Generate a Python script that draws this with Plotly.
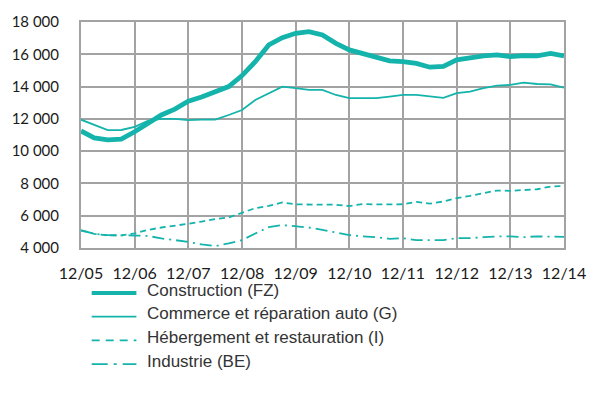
import plotly.graph_objects as go

# Quarterly dates, December 2005 to December 2014
dates = [f"{y}-{m:02d}-01" for y in range(2005, 2015) for m in (3, 6, 9, 12)]
dates = dates[3:]  # start at 2005-12

construction = [11250, 10820, 10700, 10740, 11200, 11750, 12240, 12600, 13100,
                13350, 13650, 14000, 14680, 15540, 16580, 17030, 17300, 17400,
                17200, 16680, 16270, 16050, 15800, 15590, 15550, 15440, 15200,
                15250, 15650, 15790, 15900, 15960, 15850, 15920, 15900, 16060,
                15900]
commerce = [11950, 11630, 11300, 11310, 11500, 11870, 12000, 12000, 11920,
            11950, 11950, 12240, 12550, 13170, 13590, 14000, 13900, 13790,
            13790, 13480, 13280, 13300, 13280, 13380, 13480, 13480, 13400,
            13300, 13590, 13690, 13900, 14060, 14100, 14250, 14160, 14140,
            13930]
hebergement = [5080, 4880, 4780, 4780, 4900, 5120, 5270, 5370, 5500, 5640,
               5790, 5890, 6160, 6470, 6610, 6820, 6700, 6700, 6680, 6680,
               6600, 6720, 6700, 6700, 6710, 6860, 6750, 6880, 7090, 7230,
               7400, 7560, 7540, 7600, 7640, 7810, 7850]
industrie = [5100, 4880, 4800, 4800, 4770, 4750, 4590, 4490, 4380, 4220, 4120,
             4280, 4490, 4900, 5290, 5420, 5350, 5270, 5120, 4960, 4800, 4720,
             4670, 4570, 4610, 4490, 4490, 4490, 4610, 4610, 4670, 4720, 4720,
             4670, 4720, 4720, 4690]

tick_dates = [f"{y}-12-01" for y in range(2005, 2015)]
tick_labels = [f"12/{y % 100:02d}" for y in range(2005, 2015)]
y_ticks = list(range(4000, 18001, 2000))

teal = "#14b3ab"
grid = "#a3a3a3"

W, H = 598, 403
ML, MR, MT, MB = 76, 25, 22, 155
PW, PH = W - ML - MR, H - MT - MB

# name, values, plot line width, plot dash, legend line width, legend dash
series = [
    ("Construction (FZ)", construction, 4.8, "solid", 4.0, "solid"),
    ("Commerce et réparation auto (G)", commerce, 1.8, "solid", 1.8, "solid"),
    ("Hébergement et restauration (I)", hebergement, 1.8, "6px,4px",
     1.8, "8px,6px"),
    ("Industrie (BE)", industrie, 1.8, "12px,5px,2px,5px",
     1.8, "16px,6px,3px,6px"),
]

fig = go.Figure()
for name, vals, w, dash, _, _ in series:
    fig.add_trace(go.Scatter(
        x=dates, y=vals, name=name, mode="lines",
        line=dict(color=teal, width=w, dash=dash),
        hoverinfo="skip", showlegend=False,
    ))


def px_x(p):
    return (p - ML) / PW


def px_y(p):
    return (H - MB - p) / PH


# Hand-placed key below the plot: line sample plus label for each series
key_x0, key_x1, text_x = 87, 133, 142
row_y0, row_step = 290, 23.7
for i, (name, _, _, _, lw, ldash) in enumerate(series):
    cy = row_y0 + i * row_step
    fig.add_shape(
        type="line", xref="paper", yref="paper",
        x0=px_x(key_x0), x1=px_x(key_x1), y0=px_y(cy + 3), y1=px_y(cy + 3),
        line=dict(color=teal, width=lw, dash=ldash),
    )
    fig.add_annotation(
        xref="paper", yref="paper", x=px_x(text_x), y=px_y(cy),
        xanchor="left", yanchor="middle", showarrow=False, text=name,
        font=dict(family="Liberation Sans, Arial, sans-serif", size=17,
                  color="#333333"),
    )

fig.update_layout(
    width=W, height=H,
    margin=dict(l=ML, r=MR, t=MT, b=MB),
    paper_bgcolor="white", plot_bgcolor="white",
    separators=", ",
    showlegend=False,
)
fig.update_xaxes(
    type="date", range=["2005-12-01", "2014-12-01"],
    tickvals=tick_dates, ticktext=tick_labels,
    showgrid=True, gridcolor=grid, gridwidth=2,
    showline=True, linecolor=grid, linewidth=2, mirror=True,
    ticks="", ticklabelstandoff=10,
    tickfont=dict(family="Lato, sans-serif", size=16, color="#1a1a1a"),
    zeroline=False,
)
fig.update_yaxes(
    range=[4000, 18000], tickvals=y_ticks, tickformat=",d",
    showgrid=True, gridcolor=grid, gridwidth=2,
    showline=True, linecolor=grid, linewidth=2, mirror=True,
    ticks="", ticklabelstandoff=17,
    tickfont=dict(family="Lato, sans-serif", size=15, color="#1a1a1a"),
    zeroline=False,
)

fig.write_html("out.html")
